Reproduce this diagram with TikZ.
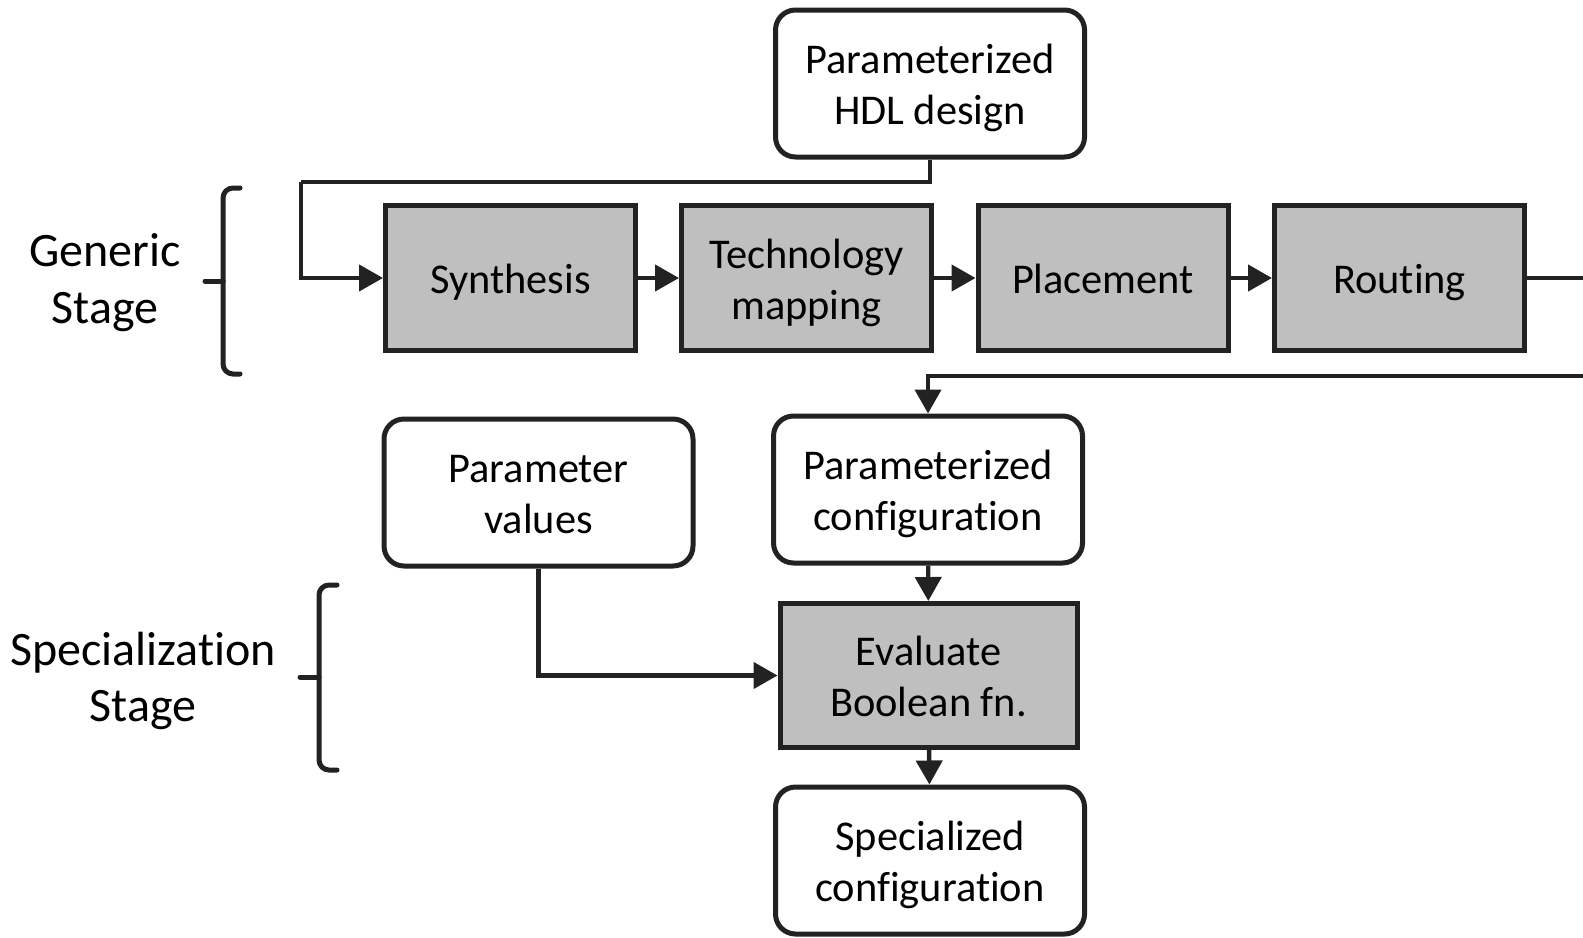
\documentclass[tikz,border=0pt]{standalone}
\usepackage{fontspec}
\setmainfont[Ligatures=NoCommon]{Carlito}
\usetikzlibrary{arrows.meta}
\definecolor{ink}{HTML}{222222}
\definecolor{boxgray}{HTML}{BFBFBF}
\begin{document}
\begin{tikzpicture}[x=0.5pt,y=-0.5pt,
  boxtext/.style={font=\fontsize{21.2pt}{25.5pt}\selectfont, align=center, text=black},
  oneline/.style={execute at begin node={\rule{0pt}{19.5pt}}, execute at end node={\rule[-4.5pt]{0pt}{0pt}}},
  twoline/.style={text height=45pt, text depth=4pt},
  iobox/.style={boxtext, twoline, draw=ink, line width=2.5pt, fill=white, rounded corners=10pt,
     minimum width=154.5pt, minimum height=73.5pt, inner sep=0pt},
  procbox/.style={boxtext, draw=ink, line width=2.5pt, fill=boxgray,
     minimum width=125pt, minimum height=72.5pt, inner sep=0pt},
  flow/.style={draw=ink, line width=2.2pt, -{Triangle[length=12pt,width=13pt]}},
  plain/.style={draw=ink, line width=2.2pt},
  brace/.style={draw=ink, line width=2.5pt, rounded corners=5pt, line cap=round},
  stagelabel/.style={font=\fontsize{24pt}{28.4pt}\selectfont, align=center, text=black}]
\useasboundingbox (0,0) rectangle (1583,937);

% nodes
\node[iobox] (hdl) at (930,83.5) {Parameterized\\HDL design};
\node[procbox, oneline] (syn) at (510.5,278) {Synthesis};
\node[procbox, twoline] (tech) at (806.5,278) {Technology\\mapping};
\node[procbox, oneline] (place) at (1103,278) {Placement};
\node[procbox, oneline] (route) at (1399.5,278) {Routing};
\node[iobox] (pconf) at (928,489.5) {Parameterized\\configuration};
\node[iobox] (pval) at (538.5,492.5) {Parameter\\values};
\node[procbox, twoline, minimum width=148.5pt, minimum height=72pt] (eval) at (928.5,675.5) {Evaluate\\Boolean fn.};
\node[iobox] (spec) at (930,860.5) {Specialized\\configuration};

% labels
\node[stagelabel] (gen) at (105,283) {Generic\\Stage};
\node[stagelabel] (spl) at (143,681) {Specialization\\Stage};

% coordinates
\coordinate (c1) at (301,182);
\coordinate (r1) at (1583,278);
\coordinate (r2) at (1583,376);

% connectors
\draw[plain] (hdl.south) |- (c1);
\draw[flow] (c1) |- (syn.west);
\draw[flow] (syn) -- (tech);
\draw[flow] (tech) -- (place);
\draw[flow] (place) -- (route);
\draw[plain] (route.east) -- (r1);
\draw[flow] (r2) -| (pconf.north);
\draw[flow] (pconf) -- (eval);
\draw[flow] (pval.south) |- (eval.west);
\draw[flow] (eval) -- (spec);

% braces
\draw[brace] (240,188) -- (223,188) -- (223,281);
\draw[brace] (240,374) -- (223,374) -- (223,281);
\draw[draw=ink, line width=2.5pt, line cap=round] (223,281) -- (205,281);

\draw[brace] (337,585) -- (319,585) -- (319,677);
\draw[brace] (337,770) -- (319,770) -- (319,677);
\draw[draw=ink, line width=2.5pt, line cap=round] (319,677) -- (300,677);
\end{tikzpicture}
\end{document}
